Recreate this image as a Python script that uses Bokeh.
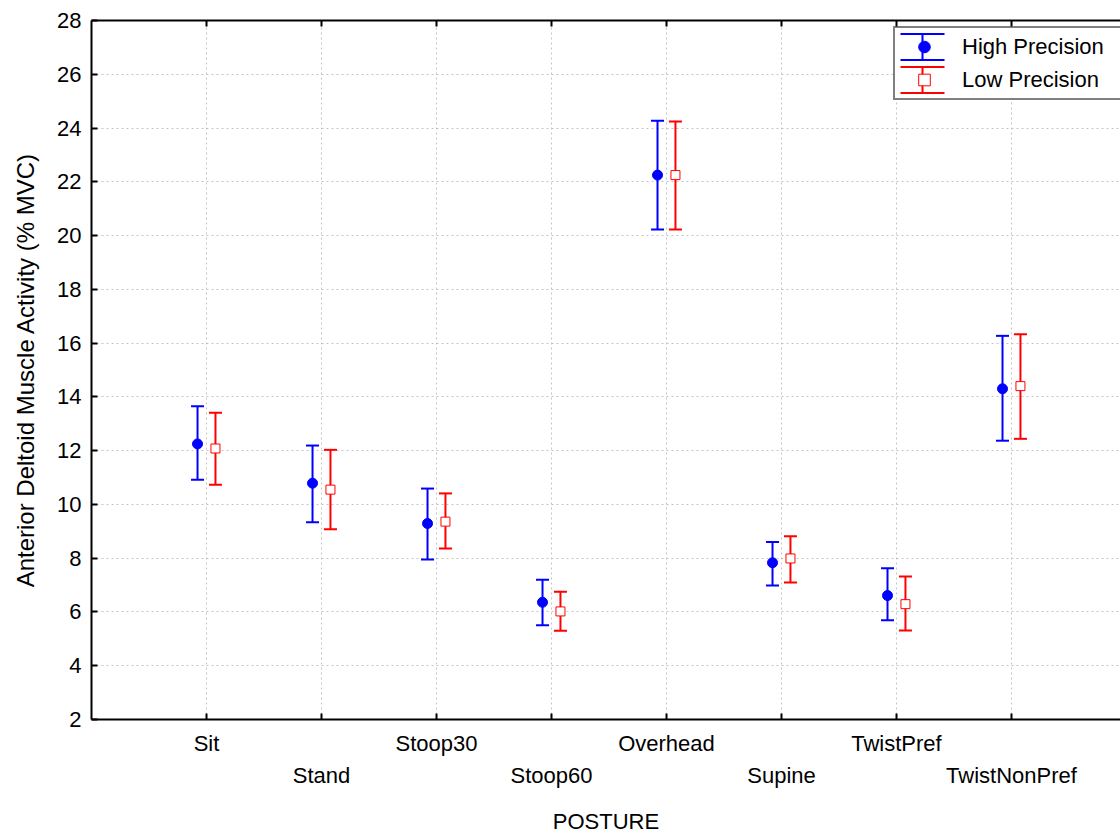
from bokeh.plotting import figure
from bokeh.models import (ColumnDataSource, Range1d, LinearAxis, FixedTicker, Grid,
                          Whisker, TeeHead, Legend, LegendItem, BoxAnnotation)
from bokeh.embed import file_html
from bokeh.resources import INLINE

# ---- data ----
categories = ["Sit", "Stand", "Stoop30", "Stoop60", "Overhead", "Supine", "TwistPref", "TwistNonPref"]
high_mean  = [12.25, 10.79, 9.29, 6.36, 22.25, 7.83, 6.61, 14.30]
high_upper = [13.65, 12.19, 10.59, 7.20, 24.27, 8.60, 7.63, 16.27]
high_lower = [10.92, 9.34, 7.95, 5.51, 20.23, 6.98, 5.69, 12.37]
low_mean   = [12.08, 10.55, 9.36, 6.02, 22.25, 7.99, 6.29, 14.40]
low_upper  = [13.41, 12.03, 10.41, 6.75, 24.24, 8.82, 7.32, 16.33]
low_lower  = [10.73, 9.08, 8.36, 5.30, 20.23, 7.10, 5.31, 12.44]
y_ticks = list(range(2, 29, 2))
series_names = ["High Precision", "Low Precision"]

FONT = "Liberation Sans"
BLUE = "#0000ff"
RED = "#ff0000"
GRID = "#c4c4c4"

W, H = 1120, 836
BORDER_L, BORDER_T, BORDER_B = 91, 20, 117
X0, X1, Y0, Y1 = 0, 8.948, 2, 28
FRAME_W = W - BORDER_L
FRAME_H = H - BORDER_T - BORDER_B

pos = list(range(1, len(categories) + 1))
odd_pos = pos[0::2]
even_pos = pos[1::2]
dodge = 0.078
src = ColumnDataSource(dict(
    xh=[p - dodge for p in pos], xl=[p + dodge for p in pos],
    hm=high_mean, hu=high_upper, hl=high_lower,
    lm=low_mean, lu=low_upper, ll=low_lower,
))

p = figure(width=W, height=H, x_range=Range1d(X0, X1), y_range=Range1d(Y0, Y1),
           x_axis_type=None, y_axis_type=None, output_backend="svg", toolbar_location=None,
           min_border_left=BORDER_L, min_border_right=0, min_border_top=BORDER_T, min_border_bottom=0)
p.outline_line_color = None
p.background_fill_color = "white"
p.border_fill_color = "white"

y_ticker = FixedTicker(ticks=y_ticks)

# grids
p.add_layout(Grid(dimension=0, ticker=FixedTicker(ticks=pos), grid_line_color=GRID,
                  grid_line_dash="2 3", grid_line_width=1))
p.add_layout(Grid(dimension=1, ticker=y_ticker, grid_line_color=GRID,
                  grid_line_dash="2 3", grid_line_width=1))

def style_axis(ax):
    ax.axis_line_width = 2
    ax.axis_line_color = "black"
    ax.major_tick_in = 6
    ax.major_tick_out = 0
    ax.major_tick_line_width = 2
    ax.major_tick_line_color = "black"
    ax.minor_tick_in = 6
    ax.minor_tick_out = 0
    ax.minor_tick_line_width = 2
    ax.minor_tick_line_color = "black"
    ax.major_label_text_font = FONT
    ax.major_label_text_font_size = "22px"
    ax.major_label_text_color = "black"
    ax.axis_label_text_font = FONT
    ax.axis_label_text_font_size = "22px"
    ax.axis_label_text_font_style = "normal"
    ax.axis_label_text_color = "black"

# left axis
yax = LinearAxis(ticker=y_ticker, axis_label="Anterior Deltoid Muscle Activity (% MVC)")
style_axis(yax)
yax.major_label_standoff = 10
yax.axis_label_standoff = 15
yax.axis_label_text_font_size = "24px"
p.add_layout(yax, "left")

# top axis: frame line with inward ticks only (ticks as minor ticks -> no labels)
tax = LinearAxis(ticker=FixedTicker(ticks=[], minor_ticks=pos))
style_axis(tax)
tax.major_label_standoff = 0
p.add_layout(tax, "above")

# bottom axes: two staggered rows of category labels
xax1 = LinearAxis(ticker=FixedTicker(ticks=odd_pos, minor_ticks=even_pos),
                  major_label_overrides={pv: categories[pv - 1] for pv in odd_pos})
style_axis(xax1)
xax1.major_label_standoff = 11
p.add_layout(xax1, "below")

xax2 = LinearAxis(ticker=FixedTicker(ticks=even_pos),
                  major_label_overrides={pv: categories[pv - 1] for pv in even_pos},
                  axis_label="POSTURE")
style_axis(xax2)
xax2.axis_line_color = None
xax2.major_tick_line_color = None
xax2.major_tick_in = 0
xax2.major_label_standoff = 4
xax2.axis_label_standoff = 18
p.add_layout(xax2, "below")

# ---- legend geometry (pixels relative to the frame's bottom-left) ----
leg_x, leg_y = 802, 619
leg_pad = 4                 # padding given to the Legend
gw, gh, sp = 50, 29, 4
sym_off = 6                 # measured offset of the first symbol row from the box edge
cap_half = 13
box_h = 2 * sym_off + 2 * gh + sp
def px_x(px):
    return X0 + px * (X1 - X0) / FRAME_W
def px_y(py):
    return Y0 + py * (Y1 - Y0) / FRAME_H

# white background behind the (transparent) legend, covering the grid
p.add_layout(BoxAnnotation(left=px_x(leg_x), right=px_x(leg_x + 400),
                           bottom=px_y(leg_y), top=px_y(leg_y + box_h),
                           fill_color="white", fill_alpha=1.0, line_color=None,
                           level="underlay"))

# error bars
for xcol, ucol, lcol, col in (("xh", "hu", "hl", BLUE), ("xl", "lu", "ll", RED)):
    w = Whisker(source=src, base=xcol, upper=ucol, lower=lcol, dimension="height",
                line_color=col, line_width=2, level="underlay",
                upper_head=TeeHead(size=13, line_color=col, line_width=2),
                lower_head=TeeHead(size=13, line_color=col, line_width=2))
    p.add_layout(w)

# error-bar symbols for the legend (below the legend's own markers)
gx = leg_x + leg_pad + gw / 2
for i, col in enumerate((BLUE, RED)):
    top = leg_y + box_h - sym_off - i * (gh + sp)
    mid = top - gh / 2
    s = ColumnDataSource(dict(b=[px_x(gx)], u=[px_y(mid + cap_half)], l=[px_y(mid - cap_half)]))
    p.add_layout(Whisker(source=s, base="b", upper="u", lower="l", dimension="height",
                         line_color=col, line_width=2, level="underlay",
                         upper_head=TeeHead(size=44, line_color=col, line_width=2),
                         lower_head=TeeHead(size=44, line_color=col, line_width=2)))

r_high = p.scatter(x="xh", y="hm", source=src, marker="circle", size=10,
                   fill_color=BLUE, line_color=BLUE)
r_low = p.scatter(x="xl", y="lm", source=src, marker="square", size=9,
                  fill_color="white", line_color=RED, line_width=1)

legend = Legend(items=[LegendItem(label=series_names[0], renderers=[r_high]),
                       LegendItem(label=series_names[1], renderers=[r_low])],
                location=(leg_x, leg_y), padding=leg_pad, spacing=sp, margin=0,
                glyph_width=gw, glyph_height=gh, label_height=gh, label_standoff=13,
                label_width=200,
                label_text_font=FONT, label_text_font_size="22px", label_text_color="black",
                border_line_color="black", border_line_width=2,
                background_fill_alpha=0.0)
p.add_layout(legend)

open("out.html", "w").write(file_html(p, INLINE))
